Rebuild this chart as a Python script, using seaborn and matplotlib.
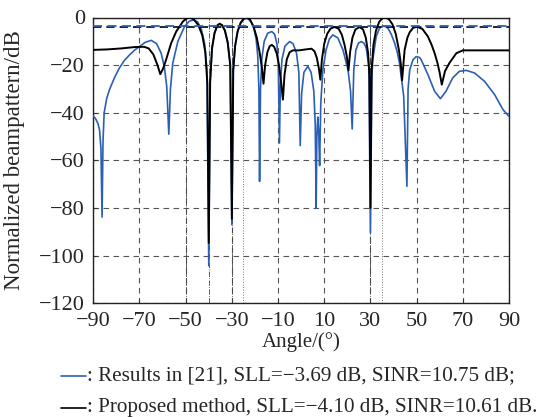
"""Normalized beampattern: Results in [21] vs proposed method."""

import matplotlib
matplotlib.use("Agg")
import matplotlib.pyplot as plt
from matplotlib.lines import Line2D
import seaborn as sns

# proposed method (black)
BLACK_ANG = [-90, -84, -78, -72, -68, -66, -64, -62.2, -61, -59.8, -58.5, -56.3, -54.1,
             -51.2, -49.5, -48.3, -46.5, -44.5, -42.8, -41.5, -40.6, -40.0, -39.4, -38.6,
             -37.5, -36.3, -35.3, -34.2, -33, -31.8, -30.7, -30.0, -29.4, -28.6, -27.5,
             -26.2, -24.8, -23.6, -22.2, -20.6, -19.2, -18, -17.0, -16.3, -15.6, -14.6,
             -13.6, -12.7, -11.7, -10.6, -9.6, -8.7, -7.9, -7.2, -6.2, -5.0, -3.6, -1, 2,
             4.5, 5.8, 6.8, 7.7, 8.3, 9.0, 10, 11.3, 12.8, 14.5, 16.2, 17.6, 18.8, 19.8,
             20.5, 21.2, 22.2, 23.5, 25.3, 26.8, 28.0, 29.0, 29.6, 30.0, 30.5, 31.3, 32.4,
             33.8, 35.2, 36.5, 38.0, 39.5, 41.0, 42.3, 43.1, 43.7, 44.8, 46.0, 47.0, 48.5,
             50.3, 52.5, 54.9, 56.5, 57.8, 59.0, 60.0, 60.9, 62.3, 64.2, 67.2, 70, 80, 90]
BLACK_DB = [-13.6, -13.4, -13.0, -12.4, -12.3, -13.0, -15.5, -20.0, -23.8, -21.5, -17.8,
            -10.8, -5.9, -1.7, -0.3, 0.0, -0.8, -3.2, -7.5, -14.5, -28, -94.7, -27, -13,
            -6.5, -3.3, -2.6, -3.2, -5.5, -10.5, -20, -84.5, -22, -12, -5.8, -2.2, -0.4,
            0.0, -0.8, -3.8, -8.5, -14.5, -21, -27.8, -20, -14.5, -12.0, -11.5, -12.3, -15,
            -20, -27, -34.5, -24, -17.5, -14.6, -13.8, -13.8, -13.4, -13.1, -14.2, -17,
            -21.5, -26.1, -17.5, -11, -6.8, -4.6, -4.0, -4.7, -7.2, -11.5, -16.5, -22.2,
            -14.5, -8.5, -5.0, -4.0, -5.0, -8.5, -15, -25, -80.0, -22, -11.5, -5.5, -1.8,
            -0.3, 0.0, -0.7, -2.8, -7.0, -13.5, -19, -26.4, -13.6, -8.5, -6.2, -4.3, -3.9,
            -4.8, -8.0, -11.5, -15.0, -19.0, -23.3, -28.2, -22.5, -19.1, -15.0, -13.8,
            -13.8, -13.8]

# results in [21] (blue)
BLUE_ANG = [-90, -89, -88, -87.3, -86.7, -86.2, -85.8, -85.3, -84.2, -83, -80.8, -78.7,
            -76.5, -74.3, -72, -70, -67.5, -64.9, -62.6, -60.6, -59.2, -58.2, -57.3, -56.6,
            -55.6, -53.4, -50.5, -48.5, -46.5, -44.8, -43.2, -41.8, -40.8, -40, -39.4,
            -38.6, -37.5, -36.3, -35.3, -34.2, -33, -31.8, -30.7, -30, -29.4, -28.6, -27.5,
            -26.2, -24.6, -23.2, -21.8, -20.5, -19.5, -18.8, -18.3, -18, -17.6, -17, -16,
            -14.5, -12.7, -11.5, -10.5, -9.9, -9.4, -9, -8.3, -7, -5, -3.5, -2, -1, -0.4,
            0.2, 1.2, 2.9, 4.3, 5.5, 6.1, 6.5, 6.8, 7.2, 7.6, 8, 8.5, 9.4, 10.8, 12.2, 13.7,
            15.9, 18.1, 20.3, 21.4, 22.1, 22.8, 23.7, 24.8, 26, 27.2, 28.2, 29.3, 30, 30.6,
            31, 32.5, 33.9, 35.4, 36.5, 37.6, 39, 40.5, 41.6, 42.6, 44.4, 45.8, 46.3, 47,
            48.4, 49.8, 51.3, 52, 54.9, 57.8, 60.3, 62.7, 65.6, 68.5, 71.5, 75.1, 79.4,
            83.8, 87.4, 90]
BLUE_DB = [-41.3, -42.5, -44.5, -47.1, -55, -83.8, -52, -40, -34, -30.3, -25.2, -21.2,
           -18, -15.7, -13.6, -12.2, -10.4, -9.6, -11, -15, -21, -29, -49, -30, -19.2,
           -10.1, -3.8, -1.6, -1.0, -1.9, -5, -11, -22, -104.2, -27, -13, -6.5, -3.4, -2.8,
           -3.4, -5.6, -10.5, -20, -87, -22, -12, -5.8, -2.3, -0.6, -0.4, -1.6, -4.5, -9,
           -16, -30, -68.8, -30, -17, -10, -6.6, -5.9, -7, -11, -19, -52.7, -28, -17.5,
           -12, -10.1, -11, -15, -23, -53.8, -32, -23, -20.5, -23, -31, -45, -80.1, -50,
           -41.8, -48, -62.2, -36, -22, -13.6, -9.1, -7.3, -8.6, -13.6, -22, -31, -46.8,
           -22, -13.6, -10.8, -10.1, -10.8, -12.9, -20.5, -90.5, -26, -17.8, -8, -4.5,
           -3.6, -3.8, -4.5, -7, -10.8, -14.5, -19.2, -33, -70.9, -30, -22, -17.8, -16.4,
           -16.8, -17.8, -24, -31, -34.1, -31, -25.4, -22.6, -22.2, -23.3, -26.8, -32.4,
           -38.7, -41.5]

SLL_BLUE = -3.69
SLL_BLACK = -4.10
NULL_DIRS = [-50, -40, -30, 30]
TARGET_DIRS = [-25, 35]
X_TICKS = list(range(-90, 91, 20))
Y_TICKS = list(range(-120, 1, 20))

BLUE = "#2b5fb4"

LEGEND = [
    (BLUE, ": Results in [21], SLL=\u22123.69 dB, SINR=10.75 dB;"),
    ("black", ": Proposed method, SLL=\u22124.10 dB, SINR=10.61 dB."),
]


def main() -> None:
    sns.set_style("ticks")
    plt.rcParams["font.family"] = ["Liberation Serif", "DejaVu Serif"]

    W, H = 544, 417
    fig = plt.figure(figsize=(W / 100, H / 100), dpi=100)
    ax = fig.add_axes([93.3 / W, 1 - 303.3 / H, (509 - 93.3) / W, (303.3 - 17.5) / H])

    ax.grid(True, linestyle=(0, (5, 4)), color="#555555", linewidth=0.8)
    ax.set_axisbelow(True)

    for a in NULL_DIRS:
        ax.axvline(a, color="#444444", linestyle="-.", linewidth=0.6, zorder=1)
    for a in TARGET_DIRS:
        ax.axvline(a, color="#777777", linestyle=":", linewidth=0.7, zorder=1)

    sns.lineplot(x=BLUE_ANG, y=BLUE_DB, color=BLUE, linewidth=1.2,
                 estimator=None, sort=False, ax=ax, zorder=3)
    sns.lineplot(x=BLACK_ANG, y=BLACK_DB, color="black", linewidth=1.4,
                 estimator=None, sort=False, ax=ax, zorder=4)

    ax.axhline(SLL_BLACK, color="black", linestyle=(0, (5, 3)), linewidth=1.2, zorder=5)
    ax.axhline(SLL_BLUE, color=BLUE, linestyle=(0, (5, 3)), linewidth=1.3, zorder=6)

    ax.set_xlim(-90, 90)
    ax.set_ylim(-120, 0)
    ax.set_xticks(X_TICKS)
    ax.set_yticks(Y_TICKS)
    ax.tick_params(direction="in", length=3, labelsize=16, pad=6, color="#333333")
    for s in ax.spines.values():
        s.set_linewidth(1.0)
        s.set_color("#222222")

    ax.set_xlabel("Angle/(\u00b0)", fontsize=15, labelpad=1)
    ax.set_ylabel("Normalized beampattern/dB", fontsize=16.5)
    ax.yaxis.set_label_coords(-0.165, 0.5)

    for i, (col, txt) in enumerate(LEGEND):
        yc = 1 - (376 + 31.5 * i) / H
        fig.add_artist(Line2D([61 / W, 86 / W], [yc, yc], color=col, linewidth=1.2))
        fig.text(87 / W, yc, txt, fontsize=15.2, va="center")

    fig.savefig("out.png", dpi=100)
    plt.close(fig)


if __name__ == "__main__":
    main()
